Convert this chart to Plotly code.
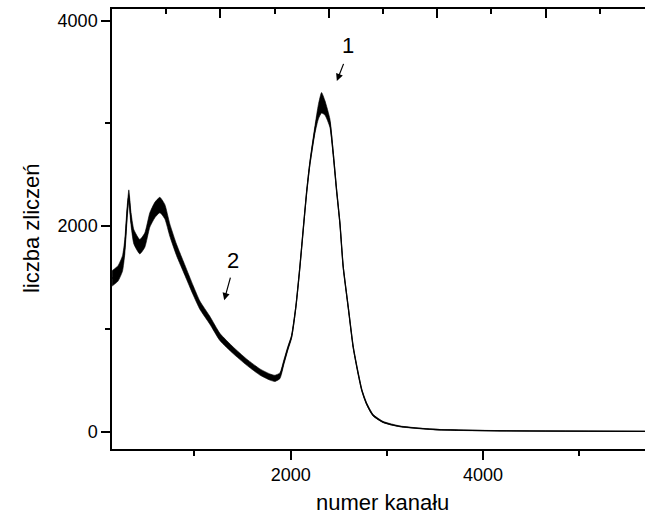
import plotly.graph_objects as go

# channel numbers (x) and counts (y)
channel = [144, 206, 252, 276, 300, 318, 338, 370, 432, 484, 536, 588, 640, 692, 744,
           814, 900, 986, 1056, 1160, 1264, 1402, 1541, 1680, 1784, 1836, 1888, 1929,
           1971, 2009, 2054, 2096, 2130, 2165, 2200, 2252, 2288, 2321, 2356, 2408, 2442,
           2477, 2512, 2546, 2598, 2650, 2702, 2740, 2789, 2858, 2962, 3136, 3343, 3551,
           4175, 5683]
counts = [1492, 1541, 1638, 1800, 2125, 2303, 2092, 1897, 1800, 1865, 2060, 2157, 2206,
          2141, 1962, 1768, 1573, 1378, 1232, 1085, 923, 793, 679, 582, 533, 520, 545,
          676, 813, 923, 1215, 1605, 1962, 2320, 2612, 2937, 3112, 3200, 3151, 3002,
          2710, 2352, 2028, 1605, 1215, 825, 566, 403, 274, 160, 95, 53, 33, 20, 10, 5]
# visible statistical scatter (half-width of the noisy band)
scatter = [75, 75, 75, 70, 60, 50, 60, 70, 70, 70, 70, 75, 75, 70, 60, 55, 50, 45, 40, 38,
           35, 32, 30, 30, 30, 30, 28, 22, 18, 15, 12, 12, 12, 15, 20, 35, 70, 100, 70, 40,
           20, 15, 12, 12, 12, 12, 12, 10, 10, 8, 6, 4, 3, 3, 2, 2]

upper = [c + s for c, s in zip(counts, scatter)]
lower = [c - s for c, s in zip(counts, scatter)]

x_title = "numer kanału"
y_title = "liczba zliczeń"
y_ticks = [0, 2000, 4000]
x_ticks = [2000, 4000]

line_shape = dict(shape="spline", smoothing=0.5)

fig = go.Figure()
fig.add_trace(go.Scatter(x=channel, y=lower, mode="lines",
                         line=dict(color="black", width=0.6, **line_shape),
                         hoverinfo="skip"))
fig.add_trace(go.Scatter(x=channel, y=upper, mode="lines", fill="tonexty",
                         fillcolor="black",
                         line=dict(color="black", width=0.6, **line_shape),
                         hoverinfo="skip"))
fig.add_trace(go.Scatter(x=channel, y=counts, mode="lines",
                         line=dict(color="black", width=1.3, **line_shape)))
# helper trace so that the top (unlabelled) axis is drawn
fig.add_trace(go.Scatter(x=[None], y=[None], xaxis="x2", mode="lines"))

font_family = "Liberation Sans, Arial, sans-serif"

fig.update_layout(
    width=645, height=516,
    margin=dict(l=112, r=0, t=9, b=67),
    paper_bgcolor="white", plot_bgcolor="white",
    showlegend=False,
    font=dict(family=font_family, color="black", size=18),
    xaxis=dict(range=[143, 5683], tickvals=x_ticks, ticks="outside", ticklen=9,
               tickwidth=1.5, tickcolor="black",
               minor=dict(dtick=1000, tick0=0, ticks="outside", ticklen=5,
                          tickwidth=1.5, tickcolor="black"),
               showline=True, linecolor="black", linewidth=1.5, mirror=True,
               showgrid=False, zeroline=False,
               tickfont=dict(size=18, color="black")),
    xaxis2=dict(overlaying="x", side="top", range=[0, 4.917], tick0=0, dtick=1,
                ticks="inside", ticklen=9, tickwidth=1.5, tickcolor="black",
                minor=dict(dtick=0.5, tick0=0, ticks="inside", ticklen=5,
                           tickwidth=1.5, tickcolor="black"),
                showticklabels=False, showline=False, showgrid=False, zeroline=False),
    yaxis=dict(range=[-167, 4112], tickvals=y_ticks, ticks="outside", ticklen=9,
               tickwidth=1.5, tickcolor="black",
               minor=dict(dtick=1000, tick0=0, ticks="outside", ticklen=5,
                          tickwidth=1.5, tickcolor="black"),
               showline=True, linecolor="black", linewidth=1.5, mirror=False,
               showgrid=False, zeroline=False,
               tickfont=dict(size=18, color="black")),
)

annotations = [
    dict(text=x_title, xref="paper", yref="paper", x=0.508, y=-0.121,
         showarrow=False, font=dict(size=22, color="black"),
         xanchor="center", yanchor="middle"),
    dict(text=y_title, xref="paper", yref="paper", x=-0.152, y=0.502,
         showarrow=False, font=dict(size=22, color="black"), textangle=-90,
         xanchor="center", yanchor="middle"),
    dict(text="1", x=2598, y=3753, showarrow=False,
         font=dict(size=22, color="black"), xanchor="center", yanchor="middle"),
    dict(text="2", x=1402, y=1670, showarrow=False,
         font=dict(size=22, color="black"), xanchor="center", yanchor="middle"),
    dict(text="", x=2480, y=3412, ax=2556, ay=3593, axref="x", ayref="y",
         showarrow=True, arrowhead=2, arrowsize=1.2, arrowwidth=1.2,
         arrowcolor="black"),
    dict(text="", x=1309, y=1280, ax=1378, ay=1514, axref="x", ayref="y",
         showarrow=True, arrowhead=2, arrowsize=1.2, arrowwidth=1.2,
         arrowcolor="black"),
]
fig.update_layout(annotations=annotations)

fig.write_html("out.html", config={"displayModeBar": False},
               post_script="document.body.style.margin='0';document.body.style.padding='0';")
